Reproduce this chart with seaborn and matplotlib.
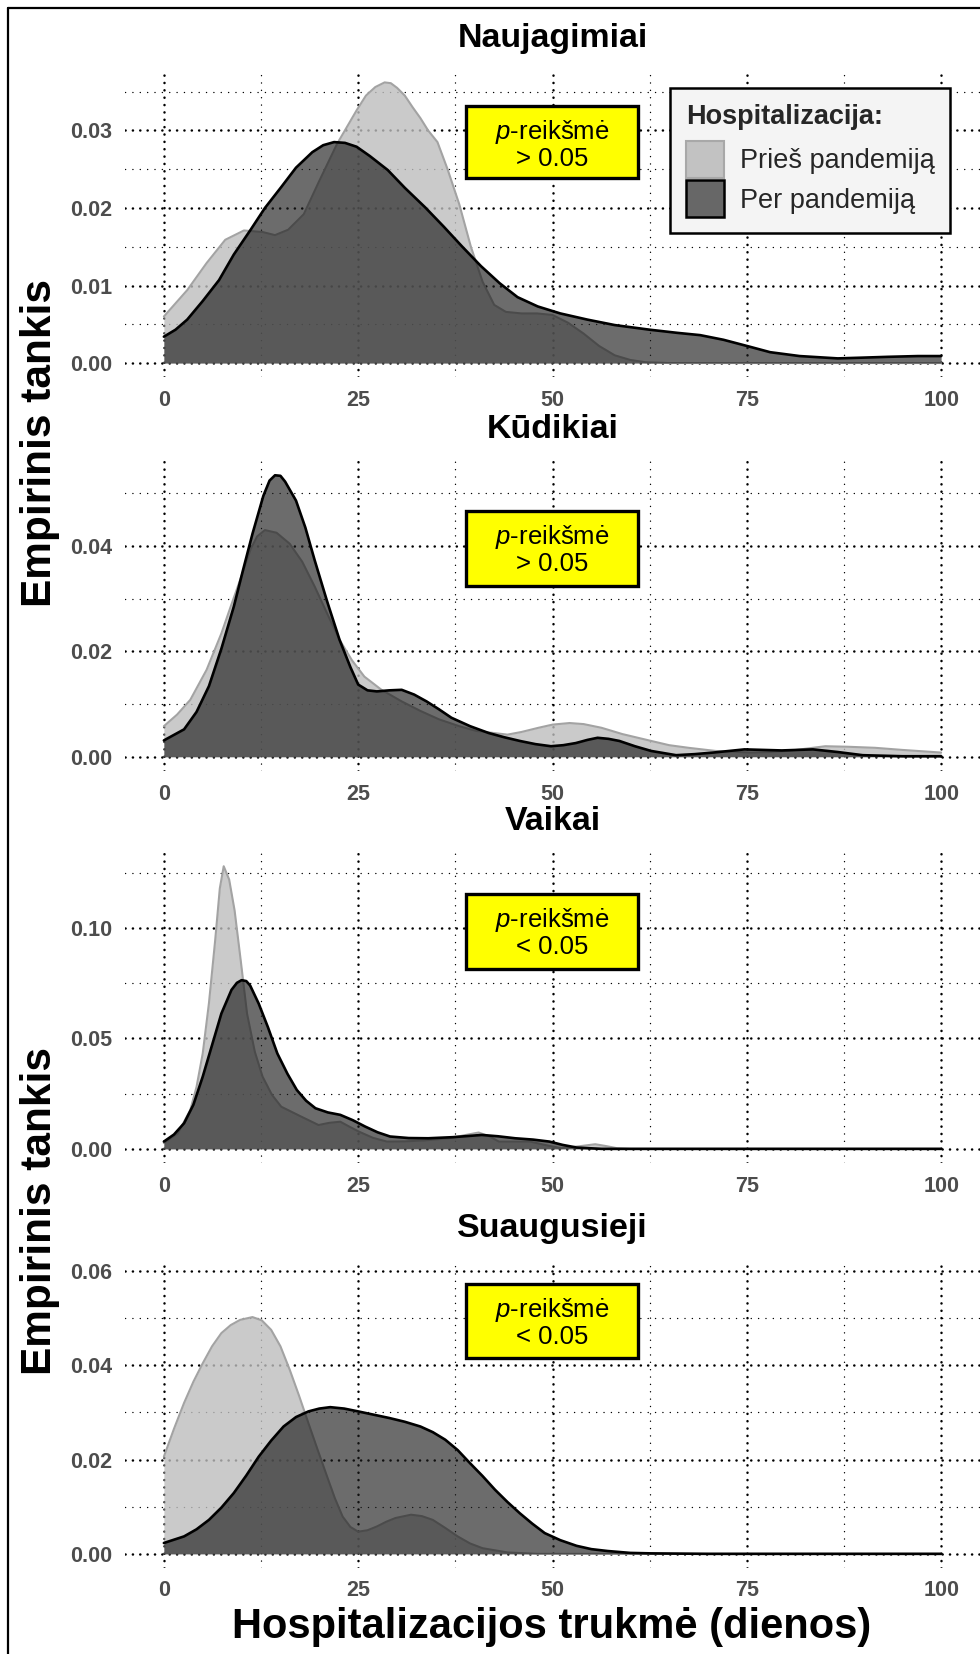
import matplotlib
matplotlib.use("Agg")
import matplotlib.pyplot as plt
import seaborn as sns
import pandas as pd
from matplotlib.patches import Rectangle, Patch
from matplotlib.lines import Line2D
from matplotlib.ticker import FixedLocator

# ---------------------------------------------------------------- data
kategorijos = ["Naujagimiai", "Kūdikiai", "Vaikai", "Suaugusieji"]
grupes = ["Prieš pandemiją", "Per pandemiją"]
p_reiksmes = ["> 0.05", "> 0.05", "< 0.05", "< 0.05"]
x_ticks = [0, 25, 50, 75, 100]

# Naujagimiai
naujagimiai_pries_x = [0, 3, 5.5, 7.9, 10.3, 12.7, 14.3, 16, 18, 20, 22.3, 24.8, 26, 27.2, 28.4, 29.2, 30,
                       31, 32, 33, 34, 35.2, 36.5, 38, 39.5, 41, 42.5, 44, 46, 48, 50, 52, 54, 56, 58,
                       60, 62, 65, 100]
naujagimiai_pries_y = [0.0060, 0.0094, 0.0129, 0.0159, 0.0171, 0.0169, 0.0165, 0.0172, 0.0192, 0.0235,
                       0.0283, 0.0326, 0.0345, 0.0356, 0.0362, 0.0361, 0.0355, 0.0345, 0.0330, 0.0316,
                       0.0300, 0.0285, 0.0250, 0.0205, 0.0150, 0.0105, 0.0075, 0.0066, 0.0064, 0.0064,
                       0.0062, 0.0052, 0.0038, 0.0022, 0.0010, 0.0004, 0.0001, 0.0, 0.0]
naujagimiai_per_x = [0, 1.5, 3, 5, 7.1, 9, 11.1, 13, 15.1, 17, 19.1, 20.5, 21.9, 23.3, 24.8, 26.5, 28.8,
                     31, 33.6, 36, 38.4, 40.8, 43.2, 45.5, 48.1, 51, 54.5, 58, 62.5, 66, 69, 72, 75.4,
                     78, 81.8, 86.7, 90, 93.1, 97, 100]
naujagimiai_per_y = [0.0034, 0.0043, 0.0056, 0.0080, 0.0107, 0.0140, 0.0171, 0.0200, 0.0227, 0.0252,
                     0.0272, 0.0281, 0.0285, 0.0284, 0.0279, 0.0267, 0.0249, 0.0226, 0.0201, 0.0176,
                     0.0150, 0.0125, 0.0103, 0.0085, 0.0073, 0.0064, 0.0056, 0.0049, 0.0043, 0.0039,
                     0.0036, 0.0030, 0.0021, 0.0014, 0.0009, 0.0006, 0.0007, 0.0008, 0.0009, 0.0009]

# Kūdikiai
kudikiai_pries_x = [0, 1.7, 3.4, 5.5, 7.4, 8.6, 9.8, 11.2, 12, 13, 14.5, 16.2, 17.8, 19.4, 21, 22.6,
                    24.2, 25.8, 28, 30.6, 33, 35.4, 38, 40.2, 44.2, 46, 48.2, 50, 52.2, 54, 56.3, 59,
                    62.7, 65, 67.5, 71, 75.5, 78, 80.3, 85.1, 88, 91.5, 95, 100]
kudikiai_pries_y = [0.0058, 0.0080, 0.0108, 0.0165, 0.0234, 0.0285, 0.0335, 0.0395, 0.0418, 0.0430,
                    0.0425, 0.0404, 0.0370, 0.0323, 0.0272, 0.0222, 0.0183, 0.0152, 0.0127, 0.0105,
                    0.0087, 0.0071, 0.0058, 0.0049, 0.0042, 0.0047, 0.0055, 0.0061, 0.0064, 0.0062,
                    0.0055, 0.0043, 0.0030, 0.0022, 0.0017, 0.0011, 0.0008, 0.0009, 0.0011, 0.0020,
                    0.0019, 0.0017, 0.0013, 0.0008]
kudikiai_per_x = [0, 2.6, 4.2, 5.8, 7.4, 9, 10.2, 11.4, 12.8, 13.6, 14.3, 15, 15.6, 17, 18.2, 19.4, 21,
                  22.6, 24, 25, 26.2, 27.4, 29, 30.6, 32.2, 33.8, 35.4, 37, 39.4, 41.8, 43.8, 45.8,
                  47.8, 49.8, 51.4, 53, 54.5, 55.8, 57.2, 58.6, 60.6, 62.7, 65.9, 68.3, 70.7, 74.7,
                  79.5, 83.5, 86.7, 89.9, 95, 100]
kudikiai_per_y = [0.0031, 0.0052, 0.0085, 0.0134, 0.0205, 0.0285, 0.0355, 0.0423, 0.0495, 0.0524,
                  0.0534, 0.0533, 0.0522, 0.0486, 0.0435, 0.0373, 0.0295, 0.0222, 0.0170, 0.0137,
                  0.0126, 0.0124, 0.0126, 0.0127, 0.0118, 0.0105, 0.0090, 0.0074, 0.0058, 0.0045,
                  0.0037, 0.0030, 0.0024, 0.0020, 0.0022, 0.0026, 0.0032, 0.0036, 0.0034, 0.0030,
                  0.0020, 0.0011, 0.0003, 0.0005, 0.0008, 0.0014, 0.0012, 0.0014, 0.0009, 0.0003,
                  0.0001, 0.0001]

# Vaikai
vaikai_pries_x = [0, 1.8, 3.4, 4.2, 5, 5.8, 6.6, 7.2, 7.7, 8.4, 9.1, 9.9, 10.7, 11.7, 12.7, 13.9, 15.1,
                  17.5, 19.9, 21.3, 22.7, 23.9, 25.1, 26.9, 28.7, 31, 33.5, 36.7, 38.7, 40.5, 41.8,
                  43.1, 47.1, 49, 51.1, 53.5, 55.5, 57, 58.3, 60, 100]
vaikai_pries_y = [0.0026, 0.0070, 0.0176, 0.0280, 0.0432, 0.0660, 0.0944, 0.1180, 0.1280, 0.1220,
                  0.1080, 0.0850, 0.0613, 0.0440, 0.0327, 0.0245, 0.0191, 0.0149, 0.0108, 0.0118,
                  0.0123, 0.0100, 0.0078, 0.0050, 0.0033, 0.0034, 0.0038, 0.0048, 0.0062, 0.0074,
                  0.0058, 0.0033, 0.0033, 0.0018, 0.0003, 0.0012, 0.0021, 0.0012, 0.0003, 0.0, 0.0]
vaikai_per_x = [0, 1.3, 2.6, 3.8, 5, 6.2, 7.4, 8.7, 9.4, 10, 10.6, 11.1, 12.2, 13.4, 14.6, 15.9, 17.1,
                18.3, 19.5, 21.1, 22.7, 24.3, 25.9, 27.5, 29.1, 31.5, 34, 37.2, 40.9, 43, 45.2, 47.5,
                49.6, 51.3, 53.1, 56.3, 100]
vaikai_per_y = [0.0033, 0.0065, 0.0116, 0.0200, 0.0327, 0.0470, 0.0613, 0.0720, 0.0752, 0.0764,
                0.0760, 0.0740, 0.0658, 0.0550, 0.0432, 0.0340, 0.0267, 0.0218, 0.0184, 0.0165,
                0.0154, 0.0130, 0.0101, 0.0075, 0.0056, 0.0049, 0.0048, 0.0053, 0.0063, 0.0057,
                0.0048, 0.0042, 0.0033, 0.0018, 0.0006, 0.0, 0.0]

# Suaugusieji
suaugusieji_pries_x = [0, 1.3, 2.6, 3.8, 5, 6.2, 7.4, 8.6, 9.8, 11.4, 12.6, 13.8, 15, 16.2, 17.4, 18.6,
                       19.8, 21, 22, 23, 24, 25, 26.2, 27.4, 28.6, 29.8, 31.8, 33.2, 34.6, 36.2, 37.8,
                       39.4, 41, 44.2, 48, 100]
suaugusieji_pries_y = [0.0206, 0.0265, 0.0320, 0.0365, 0.0404, 0.0440, 0.0468, 0.0485, 0.0496, 0.0502,
                       0.0495, 0.0475, 0.0440, 0.0390, 0.0335, 0.0277, 0.0220, 0.0164, 0.0118, 0.0079,
                       0.0057, 0.0047, 0.0050, 0.0058, 0.0068, 0.0076, 0.0083, 0.0080, 0.0072, 0.0055,
                       0.0037, 0.0022, 0.0012, 0.0003, 0.0, 0.0]
suaugusieji_per_x = [0, 2.6, 4.2, 5.8, 7.4, 9, 10.6, 12.2, 13.8, 15.4, 17, 18.6, 20, 21.4, 23.2, 25, 27,
                     29, 31, 33, 34.6, 36.2, 37.8, 39.4, 41, 42.6, 44.2, 45.8, 47.4, 49, 51, 53.1, 55,
                     57.1, 60, 62.7, 70, 100]
suaugusieji_per_y = [0.0023, 0.0037, 0.0052, 0.0072, 0.0098, 0.0129, 0.0166, 0.0206, 0.0240, 0.0270,
                     0.0290, 0.0302, 0.0308, 0.0311, 0.0308, 0.0302, 0.0295, 0.0288, 0.0280, 0.0270,
                     0.0258, 0.0242, 0.0220, 0.0192, 0.0165, 0.0136, 0.0110, 0.0086, 0.0064, 0.0044,
                     0.0029, 0.0017, 0.0010, 0.0006, 0.0002, 0.0001, 0.0, 0.0]

# y axis ticks and visible ranges per panel
y_ticks = [[0.00, 0.01, 0.02, 0.03],
           [0.00, 0.02, 0.04],
           [0.00, 0.05, 0.10],
           [0.00, 0.02, 0.04, 0.06]]
y_ribos = [(-0.0018, 0.0378), (-0.0027, 0.0563), (-0.0064, 0.1340), (-0.0030, 0.0623)]

kreives = [
    (naujagimiai_pries_x, naujagimiai_pries_y, naujagimiai_per_x, naujagimiai_per_y),
    (kudikiai_pries_x, kudikiai_pries_y, kudikiai_per_x, kudikiai_per_y),
    (vaikai_pries_x, vaikai_pries_y, vaikai_per_x, vaikai_per_y),
    (suaugusieji_pries_x, suaugusieji_pries_y, suaugusieji_per_x, suaugusieji_per_y),
]

# ---------------------------------------------------------------- style
sns.set_theme(style="white")
plt.rcParams["font.family"] = ["Liberation Sans", "DejaVu Sans"]
plt.rcParams["mathtext.fontset"] = "custom"
plt.rcParams["mathtext.rm"] = "Liberation Sans"
plt.rcParams["mathtext.it"] = "Liberation Sans:italic"
plt.rcParams["lines.scale_dashes"] = False

W, H = 980, 1654
fig = plt.figure(figsize=(W / 100, H / 100), dpi=100)
fig.patch.set_facecolor("white")

spalva_pries_fill = "#bdbdbd"
spalva_pries_line = "#a3a3a3"
spalva_per_fill = "#1a1a1a"
spalva_per_line = "black"
tick_color = "#4d4d4d"

# panel boxes in pixels: (top, bottom)
panel_px = [(70, 377), (460, 771), (853, 1163), (1260, 1568)]
left_px, right_px = 125, 980
# yellow p-value boxes: (top, bottom) in pixels, horizontal extent shared
pbox_px = [(106, 178), (511, 586), (894, 969), (1284, 1358)]
pbox_x = (466, 638)

axes = []
for i, (top, bot) in enumerate(panel_px):
    ax = fig.add_axes([left_px / W, 1 - bot / H, (right_px - left_px) / W, (bot - top) / H])
    axes.append(ax)
    ax.set_facecolor("white")
    px, py, dx, dy = kreives[i]
    df = pd.concat([
        pd.DataFrame({"dienos": px, "tankis": py, "grupe": grupes[0]}),
        pd.DataFrame({"dienos": dx, "tankis": dy, "grupe": grupes[1]}),
    ], ignore_index=True)
    d0 = df[df["grupe"] == grupes[0]]
    d1 = df[df["grupe"] == grupes[1]]

    ax.fill_between(d0["dienos"], d0["tankis"], 0, color=spalva_pries_fill, alpha=0.8, lw=0, zorder=2)
    sns.lineplot(data=d0, x="dienos", y="tankis", color=spalva_pries_line, lw=1.5,
                 sort=False, estimator=None, ax=ax, zorder=3)
    ax.fill_between(d1["dienos"], d1["tankis"], 0, color=spalva_per_fill, alpha=0.64, lw=0, zorder=4)
    sns.lineplot(data=d1, x="dienos", y="tankis", color=spalva_per_line, lw=1.9,
                 sort=False, estimator=None, ax=ax, zorder=5)

    ax.set_xlim(-5, 105)
    ax.set_ylim(*y_ribos[i])
    ax.xaxis.set_major_locator(FixedLocator(x_ticks))
    ax.xaxis.set_minor_locator(FixedLocator([12.5, 37.5, 62.5, 87.5]))
    yt = y_ticks[i]
    step = yt[1] - yt[0]
    ax.yaxis.set_major_locator(FixedLocator(yt))
    minors = [t + step / 2 for t in yt] + [yt[0] - step / 2]
    ax.yaxis.set_minor_locator(FixedLocator(minors))
    ax.set_xticklabels([str(t) for t in x_ticks])
    ax.set_yticklabels([f"{t:.2f}" for t in yt])

    ax.set_axisbelow(True)
    ax.grid(which="major", color="black", lw=1.8, linestyle=(0, (0.1, 5.2)),
            dash_capstyle="round")
    ax.grid(which="minor", color="black", lw=1.0, linestyle=(0, (0.1, 5.2)),
            dash_capstyle="round")
    for s in ax.spines.values():
        s.set_visible(False)
    ax.tick_params(which="both", length=0)
    ax.tick_params(axis="x", pad=9, labelsize=15.5, labelcolor=tick_color)
    ax.tick_params(axis="y", pad=9, labelsize=15.5, labelcolor=tick_color)
    for lbl in ax.get_xticklabels() + ax.get_yticklabels():
        lbl.set_fontweight("bold")
    ax.set_xlabel("")
    ax.set_ylabel("")

    # panel title
    h_px = bot - top
    ax.text(0.5, 1 + 22.5 / h_px, kategorijos[i], transform=ax.transAxes, ha="center",
            va="baseline", fontsize=24.5, fontweight="bold", color="black")

    # p-value box
    bt, bb = pbox_px[i]
    fig.add_artist(Rectangle((pbox_x[0] / W, 1 - bb / H), (pbox_x[1] - pbox_x[0]) / W, (bb - bt) / H,
                             transform=fig.transFigure, facecolor="#ffff00", edgecolor="black",
                             lw=2.4, zorder=10))
    cx = (pbox_x[0] + pbox_x[1]) / 2 / W
    fig.text(cx, 1 - (bt + 26) / H, r"$p$-reikšmė", ha="center", va="center", fontsize=18.5,
             color="black", zorder=11)
    fig.text(cx, 1 - (bt + 53) / H, p_reiksmes[i], ha="center", va="center", fontsize=18.5,
             color="black", zorder=11)

# legend in the first panel
handles = [Patch(facecolor="#c2c2c2", edgecolor="#a8a8a8", lw=1.5),
           Patch(facecolor="#676767", edgecolor="black", lw=1.8)]
leg = axes[0].legend(handles, grupes, title="Hospitalizacija:", loc="upper left",
                     bbox_to_anchor=(670 / W, 1 - 88 / H), bbox_transform=fig.transFigure,
                     borderaxespad=0, frameon=True, fancybox=False, framealpha=1,
                     facecolor="#f4f4f4", edgecolor="black", fontsize=19.5,
                     title_fontproperties={"weight": "bold", "size": 19.5},
                     handlelength=1.4, handleheight=1.72, handletextpad=0.6,
                     labelspacing=0.1, borderpad=0.58, alignment="left")
leg.get_frame().set_linewidth(1.8)
leg._legend_box.sep = 8
leg.set_zorder(20)

# shared axis titles
for yc in (443, 1211):
    fig.text(51 / W, 1 - yc / H, "Empirinis tankis", rotation=90, rotation_mode="anchor",
             ha="center", va="baseline", fontsize=30.5, fontweight="bold", color="black")
fig.text(552 / W, 1 - 1638 / H, "Hospitalizacijos trukmė (dienos)", ha="center", va="baseline",
         fontsize=30, fontweight="bold", color="black")

# outer frame (top and left edges)
fig.add_artist(Line2D([8 / W, 8 / W], [0, 1 - 8 / H], transform=fig.transFigure, color="black", lw=1.6))
fig.add_artist(Line2D([8 / W, 1], [1 - 8 / H, 1 - 8 / H], transform=fig.transFigure, color="black", lw=1.6))

fig.savefig("out.png", dpi=100)
